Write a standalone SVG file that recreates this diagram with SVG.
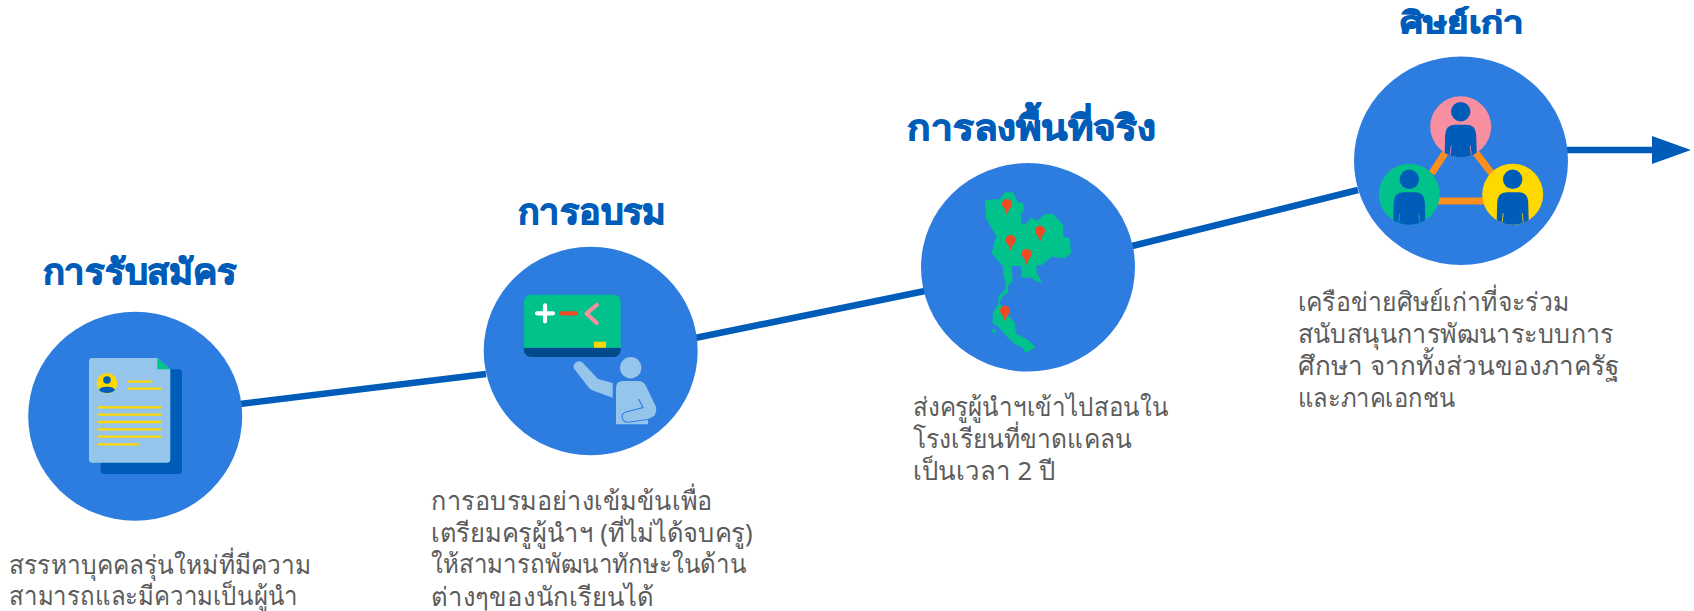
<svg xmlns="http://www.w3.org/2000/svg" width="1694" height="611" viewBox="0 0 1694 611">
<style>
.disc{fill:#2D7DE0}
.title{font-family:"Noto Sans","Liberation Sans",sans-serif;font-weight:700;font-size:35px;fill:#005CB9;stroke:#005CB9;stroke-width:1.1px}
.body{font-family:"Noto Sans","Liberation Sans",sans-serif;font-size:26px;fill:#5C5C5C}
.conn{stroke:#005CB9;stroke-width:6.500;fill:none}
.y{stroke:#FFD800;stroke-width:2.300;fill:none}
.o{stroke:#FF8F1C;stroke-width:7;fill:none}
.lt{fill:#95C5EB}
.pin{fill:#F04A23}
.map{fill:#00C28A}
.p{fill:#005CB9}
.slit{stroke:currentColor;stroke-width:.8;fill:none}
</style>
<defs>
<marker id="arrow" markerUnits="userSpaceOnUse" markerWidth="39" markerHeight="28" refX="0" refY="14" orient="auto"><path d="M0 0L39 14L0 28Z" fill="#005CB9"/></marker>
<g id="pinG"><circle class="pin" r="15"/><path class="pin" d="M-9 9L0 33L9 9Z"/></g>
<g id="person"><circle class="p" cx="0" cy="-15" r="9.700"/><path class="p" d="M-16 26L-15.500 8Q-15-2-6-2H6Q15-2 15.500 8L16 26Q8 30.500 0 30.500Q-8 30.500-16 26Z"/><path class="slit" d="M-9.500 19L-10.500 28M9.500 19L10.500 28"/></g>
</defs>
<rect width="1694" height="611" fill="#fff"/>
<g id="connectors">
<path class="conn" d="M240 404L486 374"/>
<path class="conn" d="M695 338L925 291"/>
<path class="conn" d="M1132 246L1358 190"/>
<path class="conn" d="M1566 150H1652" marker-end="url(#arrow)"/>
</g>
<g id="node-apply">
<text class="title" x="42.700" y="284" textLength="194" lengthAdjust="spacingAndGlyphs">การรับสมัคร</text>
<ellipse class="disc" cx="135.200" cy="416.300" rx="107" ry="104.500"/>
<rect x="100.700" y="369.300" width="81.300" height="104.700" rx="3" fill="#005CB9"/>
<path class="lt" d="M92 358H157.300L170.300 369.300V460A3 3 0 0 1 167.300 462.700H92A3 3 0 0 1 89 460V361A3 3 0 0 1 92 358Z"/>
<path class="map" d="M157.300 358L170.300 369.300H157.300Z"/>
<circle cx="107" cy="383.300" r="10.300" fill="#FFD800"/>
<circle class="p" cx="107" cy="380" r="3.800"/>
<path class="p" d="M99 390C100 385.500 114 385.500 115 390C112 394 102 394 99 390Z"/>
<path class="y" d="M127.300 381.700H152.300M127.300 388.700H161.300M97.700 407.300H161.300M97.700 414.700H161.300M97.700 422H161.300M97.700 429.300H161.300M97.700 436.700H161.300M97.700 444.300H139.300"/>
<text class="body" x="9" y="574" textLength="302" lengthAdjust="spacingAndGlyphs">สรรหาบุคคลรุ่นใหม่ที่มีความ</text>
<text class="body" x="9" y="605" textLength="289" lengthAdjust="spacingAndGlyphs">สามารถและมีความเป็นผู้นำ</text>
</g>
<g id="node-training">
<text class="title" x="517.700" y="224" textLength="148.300" lengthAdjust="spacingAndGlyphs">การอบรม</text>
<ellipse class="disc" cx="590.700" cy="351" rx="107" ry="104.300"/>
<path d="M524 347.700H620.700V350A7 7 0 0 1 613.700 357H531A7 7 0 0 1 524 350Z" fill="#004A8C"/>
<path class="map" d="M531 294.700H613.700A7 7 0 0 1 620.700 301.700V347.700H524V301.700A7 7 0 0 1 531 294.700Z"/>
<rect x="594" y="341.700" width="12" height="6" fill="#FFD800"/>
<path d="M537 313.300H553M545 305.300V321.300" stroke="#fff" stroke-width="4.200" stroke-linecap="round" fill="none"/>
<path d="M561.500 313.300H575.500" stroke="#F04A23" stroke-width="4.200" stroke-linecap="round" fill="none"/>
<path d="M596.700 305L586.500 313.500L596.700 323" stroke="#F88FA0" stroke-width="4.200" stroke-linecap="round" stroke-linejoin="round" fill="none"/>
<circle class="lt" cx="630.700" cy="367.700" r="10.700"/>
<path class="lt" d="M574 368.500C572 365 577 359 582 362L598 379L612.700 383V397.700L594 391Q591 390 589 388Z"/>
<path class="lt" d="M616 388Q616 381 623 381H639Q643 381 646 386L656 407Q658 416 648 419V424.300H616Z"/>
<path d="M638.700 399L643 407.700L626 412Q620 414 623 420Q625 423 630 422L648 419.500" stroke="#2D7DE0" stroke-width="1.200" fill="none"/>
<text class="body" x="431" y="510" textLength="281.700" lengthAdjust="spacingAndGlyphs">การอบรมอย่างเข้มข้นเพื่อ</text>
<text class="body" x="431" y="541.700" textLength="321.700" lengthAdjust="spacingAndGlyphs">เตรียมครูผู้นำฯ (ที่ไม่ได้จบครู)</text>
<text class="body" x="431" y="573.300" textLength="315.700" lengthAdjust="spacingAndGlyphs">ให้สามารถพัฒนาทักษะในด้าน</text>
<text class="body" x="431" y="606" textLength="223" lengthAdjust="spacingAndGlyphs">ต่างๆของนักเรียนได้</text>
</g>
<g id="node-field">
<text class="title" x="907.300" y="140" textLength="248.700" lengthAdjust="spacingAndGlyphs">การลงพื้นที่จริง</text>
<ellipse class="disc" cx="1028" cy="267.300" rx="107" ry="104.300"/>
<g transform="translate(970 185) scale(.3333)">
<path class="map" d="M45 45L90 42L105 22H130L142 50L160 55L162 80L152 85L155 118H165L185 97L200 108L225 87H250L280 120V155L300 160L303 205L285 220L245 215L215 240H200V265L218 293L200 290L185 278H155L153 243H125L128 290L115 300V320L98 335L88 355L118 395L135 415L137 445L175 465L197 487L165 505L160 490L135 478L115 460L85 425L68 415L68 385L85 355V335L108 310L106 290L100 270V245L65 205L75 165L80 155L65 130L48 100Z"/>
<circle class="map" cx="72" cy="438" r="6"/>
<use href="#pinG" x="111" y="57"/><use href="#pinG" x="122" y="165"/><use href="#pinG" x="210" y="137"/><use href="#pinG" x="170" y="207"/><use href="#pinG" x="105" y="377"/>
</g>
<text class="body" x="912.700" y="416" textLength="256.300" lengthAdjust="spacingAndGlyphs">ส่งครูผู้นำฯเข้าไปสอนใน</text>
<text class="body" x="912.700" y="448" textLength="219" lengthAdjust="spacingAndGlyphs">โรงเรียนที่ขาดแคลน</text>
<text class="body" x="912.700" y="480" textLength="143" lengthAdjust="spacingAndGlyphs">เป็นเวลา 2 ปี</text>
</g>
<g id="node-alumni">
<text class="title" x="1400" y="33.300" textLength="124" lengthAdjust="spacingAndGlyphs" style="font-size:30px">ศิษย์เก่า</text>
<ellipse class="disc" cx="1461" cy="160.700" rx="107" ry="104.300"/>
<path class="o" d="M1445 153L1431.700 173.300M1476 153L1491.700 173.300M1430 201H1495"/>
<circle cx="1460.700" cy="126.700" r="30.500" fill="#F88FA0"/>
<circle cx="1409.300" cy="194.300" r="30.500" fill="#00C28A"/>
<circle cx="1512.700" cy="194.300" r="30.500" fill="#FFD800"/>
<use href="#person" x="1460.700" y="126.700" color="#F88FA0"/>
<use href="#person" x="1409.300" y="194.300" color="#00C28A"/>
<use href="#person" x="1512.700" y="194.300" color="#FFD800"/>
<text class="body" x="1297.700" y="311" textLength="271.300" lengthAdjust="spacingAndGlyphs">เครือข่ายศิษย์เก่าที่จะร่วม</text>
<text class="body" x="1297.700" y="343.300" textLength="316.300" lengthAdjust="spacingAndGlyphs">สนับสนุนการพัฒนาระบบการ</text>
<text class="body" x="1297.700" y="375" textLength="321.300" lengthAdjust="spacingAndGlyphs">ศึกษา จากทั้งส่วนของภาครัฐ</text>
<text class="body" x="1297.700" y="406.700" textLength="158" lengthAdjust="spacingAndGlyphs">และภาคเอกชน</text>
</g>
</svg>
